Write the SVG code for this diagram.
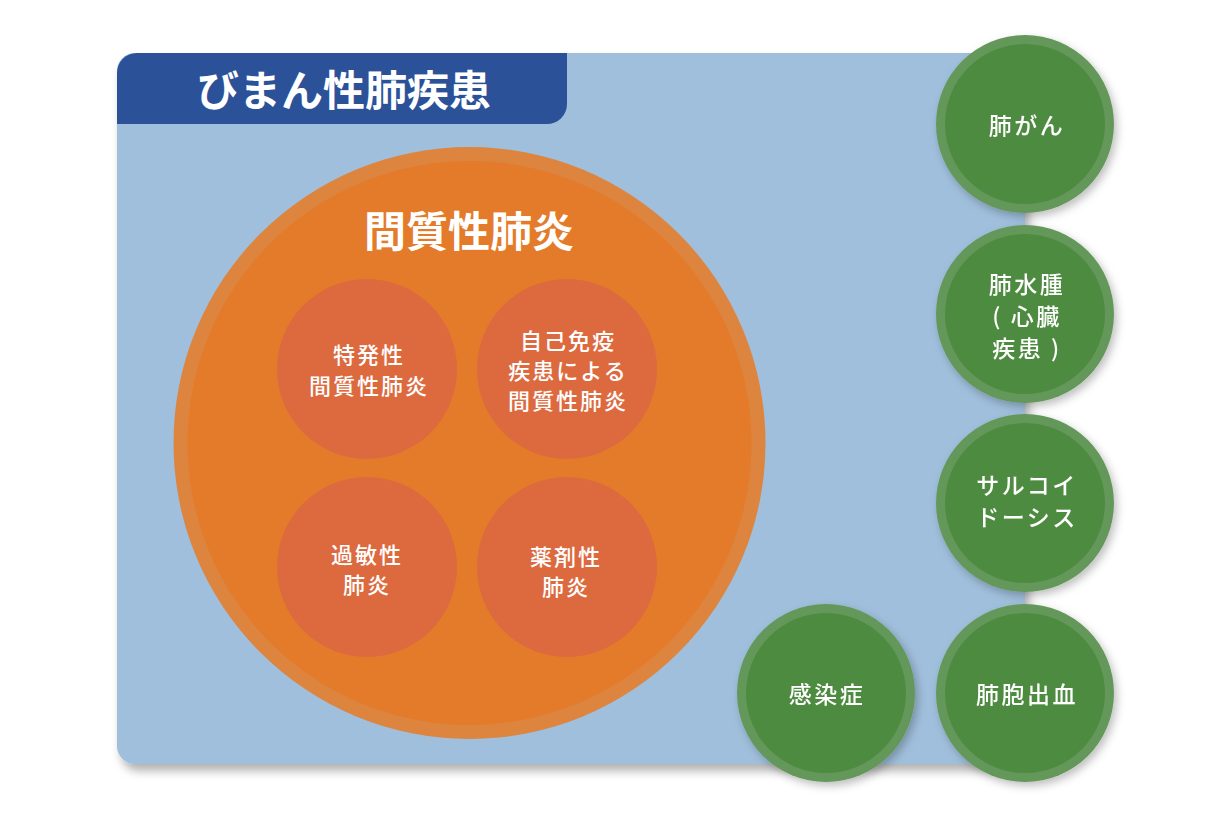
<svg xmlns="http://www.w3.org/2000/svg" width="1231" height="825" viewBox="0 0 1231 825">
<defs>
<filter id="sh" x="-10%" y="-10%" width="125%" height="125%"><feDropShadow dx="4" dy="7" stdDeviation="5" flood-color="#000" flood-opacity="0.3"/></filter>
<filter id="shc" x="-20%" y="-20%" width="145%" height="145%"><feDropShadow dx="3" dy="4" stdDeviation="4" flood-color="#000" flood-opacity="0.25"/></filter>
<style>
text{font-family:"Noto Sans CJK JP","Noto Sans",sans-serif;fill:#fff;text-anchor:middle}
.big{font-size:42px;font-weight:700}
.sm{font-size:22px;font-weight:500;letter-spacing:2px}
.gr{font-size:23px;font-weight:500;letter-spacing:2.5px}
.gring{fill:#64985a}
.gin{fill:#4e8b3f}
.oc{fill:#dd6a3f}
</style>
</defs>
<rect width="1231" height="825" fill="#fff"/>
<g id="diffuse">
<path d="M135,53 H1025 V764 H135 A18,18 0 0 1 117,746 V71 A18,18 0 0 1 135,53 Z" fill="#a0bfdc" filter="url(#sh)"/>
<path d="M137,53 H567 V104 A20,20 0 0 1 547,124 H117 V73 A20,20 0 0 1 137,53 Z" fill="#2b5199"/>
<text class="big" x="344" y="106">びまん性肺疾患</text>
</g>
<g id="ip">
<circle cx="469.5" cy="443" r="296" fill="#dd843e"/>
<circle cx="469.5" cy="443" r="282" fill="#e37b2a"/>
<text class="big" x="469" y="247">間質性肺炎</text>
</g>
<g id="idiopathic">
<circle class="oc" cx="367" cy="369" r="90"/>
<text class="sm" x="369" y="363">特発性</text>
<text class="sm" x="369" y="394">間質性肺炎</text>
</g>
<g id="autoimmune">
<circle class="oc" cx="567" cy="369" r="90"/>
<text class="sm" x="568" y="349">自己免疫</text>
<text class="sm" x="568" y="379">疾患による</text>
<text class="sm" x="568" y="409">間質性肺炎</text>
</g>
<g id="hypersensitivity">
<circle class="oc" cx="367" cy="567" r="90"/>
<text class="sm" x="367" y="563">過敏性</text>
<text class="sm" x="367" y="593">肺炎</text>
</g>
<g id="drug">
<circle class="oc" cx="567" cy="567" r="90"/>
<text class="sm" x="566" y="565">薬剤性</text>
<text class="sm" x="566" y="595">肺炎</text>
</g>
<g id="lungcancer" filter="url(#shc)">
<circle class="gring" cx="1025" cy="124" r="89"/>
<circle class="gin" cx="1025" cy="124" r="80"/>
<text class="gr" x="1027" y="134">肺がん</text>
</g>
<g id="edema" filter="url(#shc)">
<circle class="gring" cx="1025" cy="314" r="89"/>
<circle class="gin" cx="1025" cy="314" r="80"/>
<text class="gr" x="1027" y="293">肺水腫</text>
<text class="gr" x="1027" y="325">( 心臓</text>
<text class="gr" x="1027" y="357">疾患 )</text>
</g>
<g id="sarcoidosis" filter="url(#shc)">
<circle class="gring" cx="1025" cy="503" r="89"/>
<circle class="gin" cx="1025" cy="503" r="80"/>
<text class="gr" x="1027" y="494">サルコイ</text>
<text class="gr" x="1027" y="526">ドーシス</text>
</g>
<g id="infection" filter="url(#shc)">
<circle class="gring" cx="826" cy="693" r="89"/>
<circle class="gin" cx="826" cy="693" r="80"/>
<text class="gr" x="827" y="703">感染症</text>
</g>
<g id="hemorrhage" filter="url(#shc)">
<circle class="gring" cx="1025" cy="693" r="89"/>
<circle class="gin" cx="1025" cy="693" r="80"/>
<text class="gr" x="1027" y="703">肺胞出血</text>
</g>
<g id="connectors"/>
</svg>
